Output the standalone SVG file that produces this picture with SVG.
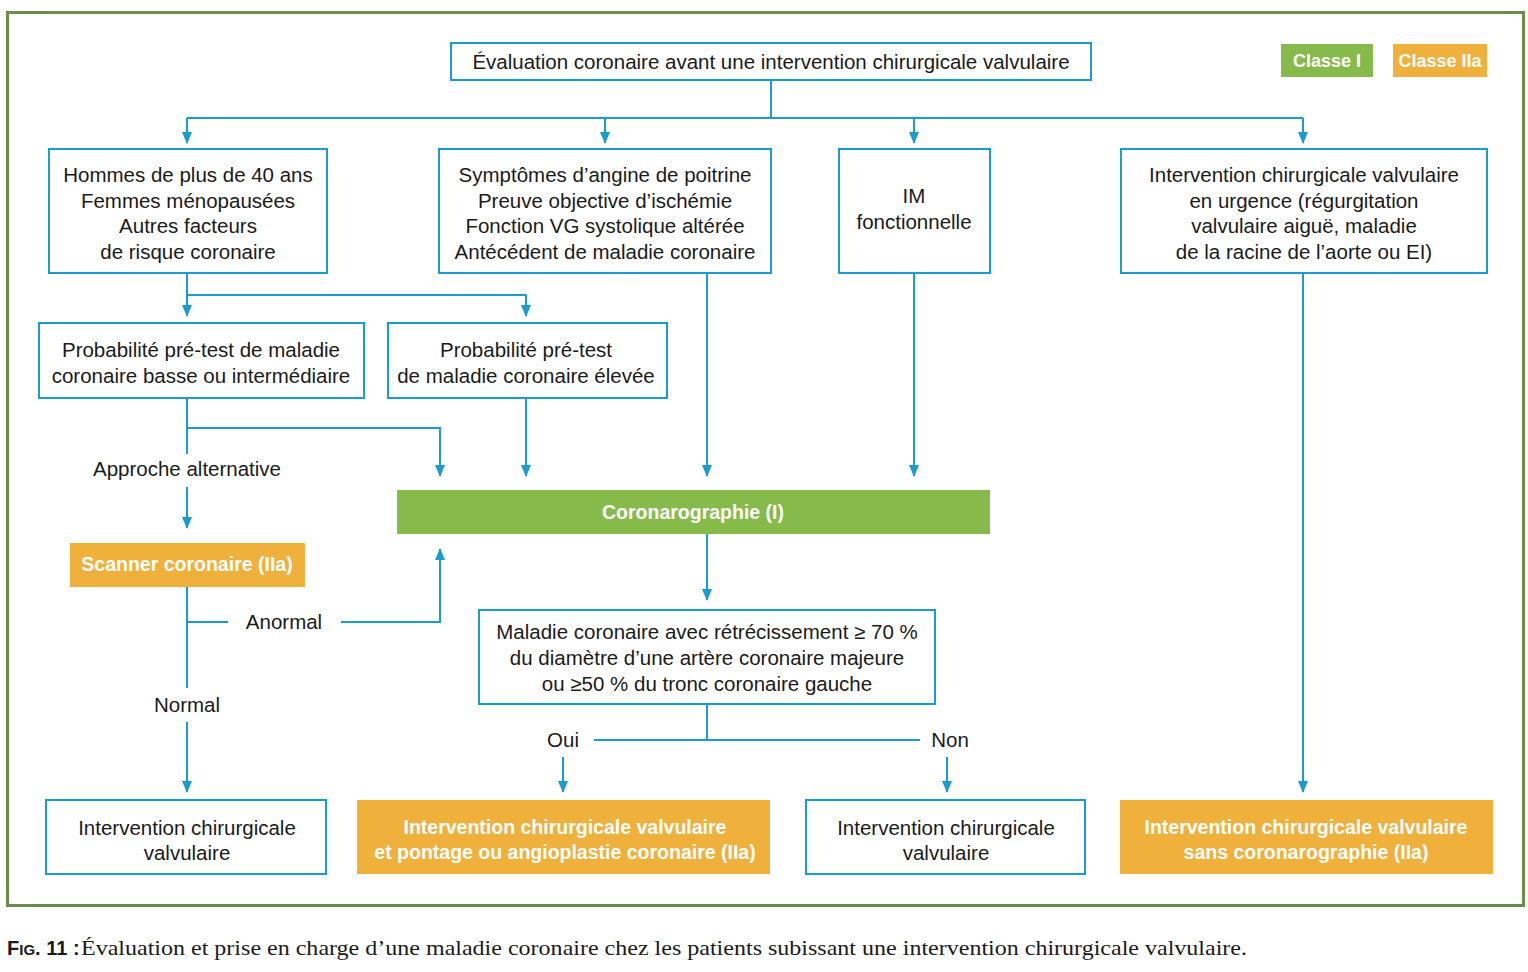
<svg xmlns="http://www.w3.org/2000/svg" width="1528" height="972" viewBox="0 0 1528 972">
<defs>
<marker id="ah" markerWidth="12" markerHeight="10" refX="11" refY="5" orient="auto" markerUnits="userSpaceOnUse">
<path d="M0,0 L12,5 L0,10 Z" fill="#1a9ccf"/>
</marker>
<style>
.box{fill:#fff;stroke:#1a9ccf;stroke-width:2}
.g{fill:#86bb4b}
.o{fill:#f0b03c}
.t{font-family:"Liberation Sans",Arial,sans-serif;font-size:20.5px;fill:#1a1a1a;text-anchor:middle}
.w{font-family:"Liberation Sans",Arial,sans-serif;font-size:19.5px;font-weight:bold;fill:#fff;text-anchor:middle}
.lg{font-size:18px}
.c{fill:none;stroke:#1a9ccf;stroke-width:2}
.a{fill:none;stroke:#1a9ccf;stroke-width:2;marker-end:url(#ah)}
</style>
</defs>
<rect x="0" y="0" width="1528" height="972" fill="#fff"/>
<rect x="7.5" y="12.5" width="1516" height="893" fill="none" stroke="#6b8c4c" stroke-width="3"/>

<g id="connectors">
<path class="c" d="M771,80 V118 M187,118 H1303"/>
<path class="a" d="M187,118 V143"/>
<path class="a" d="M605,118 V143"/>
<path class="a" d="M914,118 V143"/>
<path class="a" d="M1303,118 V143"/>
<path class="c" d="M187,273 V295 H526"/>
<path class="a" d="M187,295 V316"/>
<path class="a" d="M526,295 V316"/>
<path class="a" d="M187,398 V428 H440 V476"/>
<path class="c" d="M187,428 V454"/>
<path class="a" d="M187,487 V528"/>
<path class="a" d="M526,398 V476"/>
<path class="a" d="M707,273 V476"/>
<path class="a" d="M914,273 V476"/>
<path class="c" d="M187,587 V688"/>
<path class="c" d="M187,622 H228"/>
<path class="a" d="M341,622 H440 V549"/>
<path class="a" d="M187,722 V792"/>
<path class="a" d="M707,534 V600"/>
<path class="c" d="M707,704 V740 M594,740 H920"/>
<path class="a" d="M563,757 V792"/>
<path class="a" d="M947,757 V792"/>
<path class="a" d="M1303,273 V792"/>
</g>

<g id="top"><rect class="box" x="451" y="43" width="640" height="37"/>
<text class="t" x="771" y="69">Évaluation coronaire avant une intervention chirurgicale valvulaire</text></g>

<g id="legend-classe-i"><rect class="g" x="1281" y="44" width="92" height="33"/>
<text class="w lg" x="1327" y="67">Classe I</text></g>
<g id="legend-classe-iia"><rect class="o" x="1393" y="44" width="94" height="33"/>
<text class="w lg" x="1440" y="67">Classe IIa</text></g>

<g id="n-hommes"><rect class="box" x="49" y="149" width="278" height="124"/>
<text class="t" x="188" y="182">Hommes de plus de 40 ans</text>
<text class="t" x="188" y="208">Femmes ménopausées</text>
<text class="t" x="188" y="233">Autres facteurs</text>
<text class="t" x="188" y="259">de risque coronaire</text></g>

<g id="n-symptomes"><rect class="box" x="439" y="149" width="332" height="124"/>
<text class="t" x="605" y="182">Symptômes d’angine de poitrine</text>
<text class="t" x="605" y="208">Preuve objective d’ischémie</text>
<text class="t" x="605" y="233">Fonction VG systolique altérée</text>
<text class="t" x="605" y="259">Antécédent de maladie coronaire</text></g>

<g id="n-im"><rect class="box" x="839" y="149" width="151" height="124"/>
<text class="t" x="914" y="203">IM</text>
<text class="t" x="914" y="229">fonctionnelle</text></g>

<g id="n-urgence"><rect class="box" x="1121" y="149" width="366" height="124"/>
<text class="t" x="1304" y="182">Intervention chirurgicale valvulaire</text>
<text class="t" x="1304" y="208">en urgence (régurgitation</text>
<text class="t" x="1304" y="233">valvulaire aiguë, maladie</text>
<text class="t" x="1304" y="259">de la racine de l’aorte ou EI)</text></g>

<g id="n-proba-basse"><rect class="box" x="39" y="323" width="325" height="75"/>
<text class="t" x="201" y="357">Probabilité pré-test de maladie</text>
<text class="t" x="201" y="383">coronaire basse ou intermédiaire</text></g>

<g id="n-proba-elevee"><rect class="box" x="388" y="323" width="279" height="75"/>
<text class="t" x="526" y="357">Probabilité pré-test</text>
<text class="t" x="526" y="383">de maladie coronaire élevée</text></g>

<g id="l-approche"><text class="t" x="187" y="476">Approche alternative</text></g>

<g id="n-coro"><rect class="g" x="397" y="490" width="593" height="44"/>
<text class="w" x="693" y="519">Coronarographie (I)</text></g>

<g id="n-scanner"><rect class="o" x="70" y="543" width="235" height="44"/>
<text class="w" x="187" y="571">Scanner coronaire (IIa)</text></g>

<g id="l-anormal"><text class="t" x="284" y="629">Anormal</text></g>
<g id="l-normal"><text class="t" x="187" y="712">Normal</text></g>

<g id="n-maladie"><rect class="box" x="479" y="610" width="456" height="94"/>
<text class="t" x="707" y="639">Maladie coronaire avec rétrécissement ≥ 70 %</text>
<text class="t" x="707" y="665">du diamètre d’une artère coronaire majeure</text>
<text class="t" x="707" y="691">ou ≥50 % du tronc coronaire gauche</text></g>

<g id="l-oui"><text class="t" x="563" y="747">Oui</text></g>
<g id="l-non"><text class="t" x="950" y="747">Non</text></g>

<g id="n-final-1"><rect class="box" x="46" y="800" width="280" height="74"/>
<text class="t" x="187" y="835">Intervention chirurgicale</text>
<text class="t" x="187" y="860">valvulaire</text></g>

<g id="n-final-2"><rect class="o" x="357" y="800" width="413" height="74"/>
<text class="w" x="565" y="834">Intervention chirurgicale valvulaire</text>
<text class="w" x="565" y="859">et pontage ou angioplastie coronaire (IIa)</text></g>

<g id="n-final-3"><rect class="box" x="806" y="800" width="279" height="74"/>
<text class="t" x="946" y="835">Intervention chirurgicale</text>
<text class="t" x="946" y="860">valvulaire</text></g>

<g id="n-final-4"><rect class="o" x="1120" y="800" width="373" height="74"/>
<text class="w" x="1306" y="834">Intervention chirurgicale valvulaire</text>
<text class="w" x="1306" y="859">sans coronarographie (IIa)</text></g>

<g id="caption"><text x="7" y="955" font-family="'Liberation Sans',Arial,sans-serif" font-weight="bold" font-size="20" fill="#1a1a1a">F<tspan font-size="15">IG</tspan>. 11 :</text>
<text x="81" y="955" font-family="'Liberation Serif','Times New Roman',serif" font-size="22" fill="#1a1a1a" textLength="1166" lengthAdjust="spacingAndGlyphs">Évaluation et prise en charge d’une maladie coronaire chez les patients subissant une intervention chirurgicale valvulaire.</text></g>
</svg>
